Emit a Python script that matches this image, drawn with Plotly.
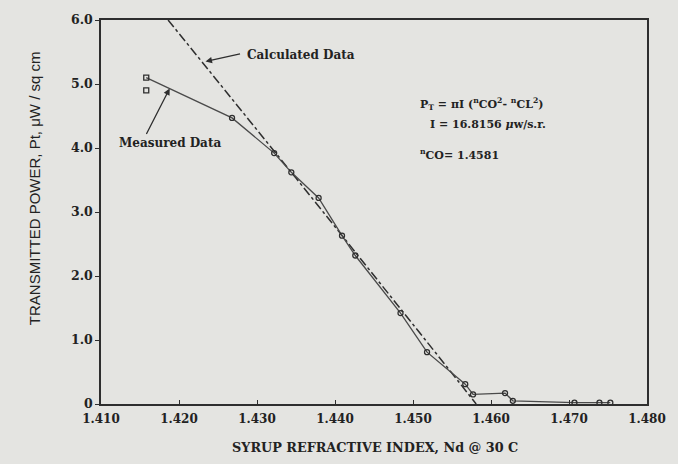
import plotly.graph_objects as go

# Measured data (syrup refractive index vs transmitted power)
meas_x = [1.4158, 1.4268, 1.4322, 1.4344, 1.4379, 1.4409, 1.4426, 1.4484, 1.4518,
          1.4567, 1.4577, 1.4618, 1.4628, 1.4707, 1.4739, 1.4753]
meas_y = [5.10, 4.47, 3.92, 3.62, 3.22, 2.63, 2.32, 1.42, 0.81,
          0.31, 0.15, 0.17, 0.05, 0.02, 0.02, 0.02]
meas_sym = ["square-open"] + ["circle-open"] * 15
extra_x = [1.4158]
extra_y = [4.90]

# Calculated data
calc_x = [1.4186, 1.425, 1.430, 1.435, 1.440, 1.445, 1.450, 1.455, 1.4581]
calc_y = [6.00, 5.04, 4.29, 3.53, 2.77, 2.01, 1.24, 0.48, 0.00]

x_ticks = [1.410, 1.420, 1.430, 1.440, 1.450, 1.460, 1.470, 1.480]
x_labels = ["1.410", "1.420", "1.430", "1.440", "1.450", "1.460", "1.470", "1.480"]
y_ticks = [0, 1, 2, 3, 4, 5, 6]
y_labels = ["0", "1.0", "2.0", "3.0", "4.0", "5.0", "6.0"]

BG = "#e4e4e1"
INK = "#2e2e2e"
SERIF = "DejaVu Serif"

fig = go.Figure()
fig.add_trace(go.Scatter(x=calc_x, y=calc_y, mode="lines",
                         line=dict(color=INK, width=1.5, dash="dashdot"),
                         showlegend=False))
fig.add_trace(go.Scatter(x=meas_x, y=meas_y, mode="lines+markers",
                         line=dict(color="#4a4a4a", width=1.3),
                         marker=dict(symbol=meas_sym, size=5, color=INK,
                                     line=dict(color=INK, width=1.3)),
                         showlegend=False, cliponaxis=False))
fig.add_trace(go.Scatter(x=extra_x, y=extra_y, mode="markers",
                         marker=dict(symbol="square-open", size=5, color=INK,
                                     line=dict(color=INK, width=1.3)),
                         showlegend=False, cliponaxis=False))

fig.update_layout(
    width=678, height=464,
    margin=dict(l=101, r=22, t=18, b=60),
    paper_bgcolor=BG, plot_bgcolor=BG,
    font=dict(family=SERIF, color="#222222", size=12),
)
fig.update_xaxes(range=[1.410, 1.480], tickvals=x_ticks, ticktext=[f"<b>{t}</b>" for t in x_labels],
                 showgrid=False, zeroline=False, showline=True, mirror=True,
                 linecolor=INK, linewidth=1.5, ticks="inside", ticklen=4,
                 ticklabelstandoff=3,
                 tickcolor=INK, tickfont=dict(family=SERIF, size=12))
fig.update_yaxes(range=[0, 6], tickvals=y_ticks, ticktext=[f"<b>{t}</b>" for t in y_labels],
                 showgrid=False, zeroline=False, showline=True, mirror=True,
                 linecolor=INK, linewidth=1.5, ticks="outside", ticklen=4,
                 tickcolor=INK, tickfont=dict(family=SERIF, size=12.5))

ann = []
# Axis titles
ann.append(dict(text="TRANSMITTED POWER, Pt, μW / sq cm", xref="paper", yref="paper",
                x=-0.142, y=0.562, textangle=-90, showarrow=False,
                font=dict(family="Liberation Sans", size=15, color="#222222")))
ann.append(dict(text="<b>SYRUP REFRACTIVE INDEX, Nd @ 30 C</b>", xref="paper", yref="paper",
                x=(380 - 101) / 555, y=(404 - 448) / 386, yanchor="middle", showarrow=False,
                font=dict(family=SERIF, size=12.8, color="#222222")))
# Labels with arrows
ann.append(dict(text="<b>Calculated Data</b>", xref="paper", yref="paper",
                x=(247 - 101) / 555, y=(404 - 53) / 386, xanchor="left", yanchor="middle",
                showarrow=False, font=dict(family=SERIF, size=12)))
ann.append(dict(text="", x=1.4234, y=5.35, ax=36, ay=-8, showarrow=True,
                arrowhead=2, arrowsize=1, arrowwidth=1.3, arrowcolor=INK))
ann.append(dict(text="<b>Measured Data</b>", xref="paper", yref="paper",
                x=(117 - 101) / 555, y=(404 - 142) / 386, xanchor="left", yanchor="middle",
                showarrow=False, font=dict(family=SERIF, size=12)))
ann.append(dict(text="", x=1.4188, y=4.93, ax=-24, ay=47, showarrow=True,
                arrowhead=2, arrowsize=1, arrowwidth=1.3, arrowcolor=INK))
# Formula block
ann.append(dict(text="<b>P<sub>T</sub> = πI (<sup>n</sup>CO<sup>2</sup>- <sup>n</sup>CL<sup>2</sup>)</b>",
                xref="paper", yref="paper", x=(423 - 101) / 555, y=(404 - 102) / 386,
                xanchor="left", yanchor="middle", showarrow=False,
                font=dict(family=SERIF, size=11)))
ann.append(dict(text="<b>I = 16.8156 <i>μ</i>w/s.r.</b>",
                xref="paper", yref="paper", x=(433 - 101) / 555, y=(404 - 123) / 386,
                xanchor="left", yanchor="middle", showarrow=False,
                font=dict(family=SERIF, size=11)))
ann.append(dict(text="<b><sup>n</sup>CO= 1.4581</b>",
                xref="paper", yref="paper", x=(423 - 101) / 555, y=(404 - 153) / 386,
                xanchor="left", yanchor="middle", showarrow=False,
                font=dict(family=SERIF, size=11)))
fig.update_layout(annotations=ann)

fig.write_html("out.html", config={"displayModeBar": False},
               post_script="document.body.style.margin='0';document.body.style.overflow='hidden';")
